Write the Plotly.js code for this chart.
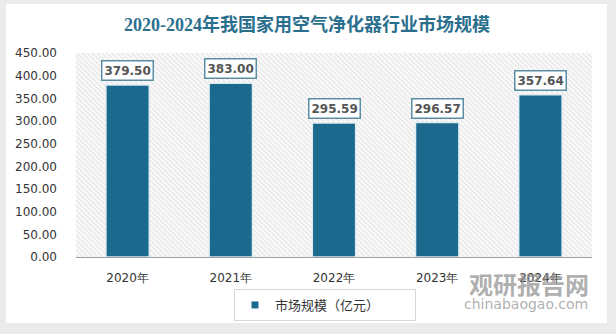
<!DOCTYPE html>
<html>
<head>
<meta charset="utf-8">
<script src="https://cdn.plot.ly/plotly-3.0.1.min.js"></script>
<style>html,body{margin:0;padding:0;background:#ebebeb;}#chart{width:616px;height:334px;}</style>
</head>
<body>
<div id="chart"></div>
<script>
var categories = ["2020年", "2021年", "2022年", "2023年", "2024年"];
var values = [379.50, 383.00, 295.59, 296.57, 357.64];
var seriesName = "市场规模（亿元）";
var yTicks = [0, 50, 100, 150, 200, 250, 300, 350, 400, 450];
var yTickText = ["0.00", "50.00", "100.00", "150.00", "200.00", "250.00", "300.00", "350.00", "400.00", "450.00"];
var titleText = "2020-2024年我国家用空气净化器行业市场规模";

var W = 516, H = 204;
function px(x) { return (x - 76) / W; }
function py(y) { return (257 - y) / H; }

var svg = '<svg xmlns="http://www.w3.org/2000/svg" width="' + W + '" height="' + H + '" viewBox="0 0 ' + W + ' ' + H + '" preserveAspectRatio="none">' +
  '<defs><pattern id="p" width="3.5" height="3.5" patternUnits="userSpaceOnUse" patternTransform="rotate(-45)">' +
  '<rect width="3.5" height="3.5" fill="#fbfbfb"/><line x1="0.8" y1="0" x2="0.8" y2="3.5" stroke="#e3e3e3" stroke-width="1.2"/></pattern></defs>' +
  '<rect width="' + W + '" height="' + H + '" fill="url(#p)"/></svg>';
var bgSrc = 'data:image/svg+xml;charset=utf-8,' + encodeURIComponent(svg);

var barTrace = {
  type: "bar",
  x: categories,
  y: values,
  name: seriesName,
  width: 0.42,
  marker: { color: "#1b6a8e", line: { color: "rgba(225,238,244,0.95)", width: 1.5 } },
  hoverinfo: "none",
  showlegend: false
};
var legendTrace = {
  type: "scatter", mode: "markers",
  x: [null], y: [null],
  name: seriesName,
  marker: { symbol: "square", size: 7, color: "#1b6a8e" },
  showlegend: true, hoverinfo: "none"
};

var annotations = categories.map(function (c, i) {
  return {
    x: c, y: values[i], xref: "x", yref: "y",
    text: "<b>" + values[i].toFixed(2) + "</b>",
    showarrow: false, yanchor: "bottom", yshift: 4,
    bgcolor: "#ffffff", bordercolor: "#5a8ea5", borderwidth: 1.5, borderpad: 2,
    font: { family: "DejaVu Sans", size: 12, color: "#555555" }
  };
});
annotations.push({
  xref: "paper", yref: "paper", x: px(467), y: py(283),
  xanchor: "left", yanchor: "middle", showarrow: false,
  text: "<b>观研报告网</b>",
  font: { family: "Noto Sans CJK SC", size: 24, color: "rgba(140,140,140,0.7)" }
});
annotations.push({
  xref: "paper", yref: "paper", x: px(462), y: py(304),
  xanchor: "left", yanchor: "middle", showarrow: false,
  text: "chinabaogao.com",
  font: { family: "DejaVu Sans", size: 14, color: "rgba(140,140,140,0.7)" }
});

var layout = {
  width: 616, height: 334,
  margin: { l: 76, r: 24, t: 53, b: 77, autoexpand: false },
  paper_bgcolor: "#ffffff",
  plot_bgcolor: "rgba(0,0,0,0)",
  title: {
    text: titleText,
    x: 307 / 616, xanchor: "center", xref: "container",
    y: 1 - 25 / 334, yanchor: "middle", yref: "container",
    font: { family: "Liberation Serif, Noto Sans CJK SC", size: 18, color: "#2b6f8e", weight: "bold" }
  },
  xaxis: {
    type: "category", automargin: false,
    showgrid: false, zeroline: false,
    showline: true, linecolor: "#a0a0a0", linewidth: 1,
    ticks: "", ticklabelstandoff: 10, tickangle: 0,
    tickfont: { family: "DejaVu Sans", size: 12, color: "#333333" },
    range: [-0.5, 4.5], fixedrange: true
  },
  yaxis: {
    range: [0, 450], tickvals: yTicks, ticktext: yTickText, automargin: false,
    showgrid: false, zeroline: false, showline: false,
    ticks: "", ticklabelstandoff: 18,
    tickfont: { family: "DejaVu Sans", size: 12, color: "#333333" },
    fixedrange: true
  },
  showlegend: true,
  legend: {
    orientation: "h",
    x: px(234), xanchor: "left",
    y: py(305), yanchor: "middle",
    bgcolor: "#ffffff", bordercolor: "#d8d8d8", borderwidth: 1,
    font: { family: "Noto Sans CJK SC", size: 13, color: "#333333" },
    entrywidth: 135, entrywidthmode: "pixels"
  },
  images: [{
    source: bgSrc, xref: "paper", yref: "paper",
    x: 0, y: 1, sizex: 1, sizey: 1, sizing: "stretch",
    xanchor: "left", yanchor: "top", layer: "below"
  }],
  shapes: [{
    type: "path", xref: "paper", yref: "paper", layer: "below",
    fillrule: "evenodd",
    path: "M" + px(0) + "," + py(0) + " L" + px(616) + "," + py(0) + " L" + px(616) + "," + py(334) + " L" + px(0) + "," + py(334) + " Z " +
          "M" + px(6) + "," + py(4) + " L" + px(607) + "," + py(4) + " L" + px(607) + "," + py(323) + " L" + px(6) + "," + py(323) + " Z",
    fillcolor: "#ebebeb", line: { width: 0 }
  }],
  annotations: annotations
};

Plotly.newPlot("chart", [barTrace, legendTrace], layout, { displayModeBar: false, staticPlot: true });
</script>
</body>
</html>
